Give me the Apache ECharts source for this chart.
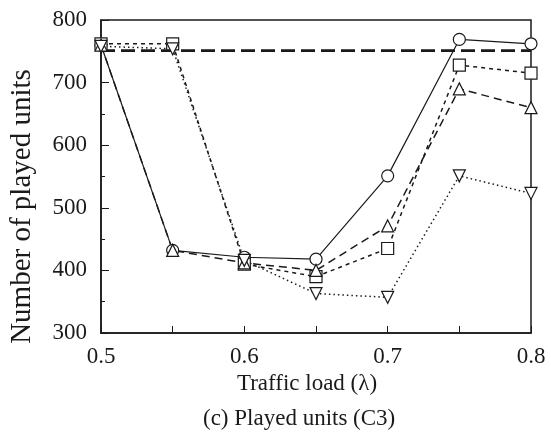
<!DOCTYPE html>
<html>
<head>
  <meta charset="UTF-8">
  <title>Played units (C3)</title>
  <script src="https://cdn.jsdelivr.net/npm/echarts@6/dist/echarts.min.js"></script>
  <style>
    body { margin: 0; padding: 0; background: #fff; }
    #chart { width: 551px; height: 432px; }
  </style>
</head>
<body>
  <div id="chart"></div>
  <script>
    // traffic load values on the x axis
    var loads = [0.5, 0.55, 0.6, 0.65, 0.7, 0.75, 0.8];

    // played units per scheme
    var circleUnits = [760, 432, 421, 418, 551, 769, 762];
    var squareUnits = [762, 762, 410, 390, 435, 728, 715];
    var triUpUnits = [760, 432, 412, 400, 471, 690, 660];
    var triDownUnits = [758, 754, 416, 363, 357, 551, 523];
    var flatUnits = [751, 751, 751, 751, 751, 751, 751];

    var yTicks = [300, 400, 500, 600, 700, 800];
    var xTicks = [0.5, 0.6, 0.7, 0.8];

    function pairs(vals) {
      var out = [];
      for (var i = 0; i < loads.length; i++) out.push([loads[i], vals[i]]);
      return out;
    }

    var font = '"Liberation Serif", "DejaVu Serif", serif';
    var ink = '#1a1a1a';

    var chart = echarts.init(document.getElementById('chart'), null, { renderer: 'canvas' });

    chart.setOption({
      animation: false,
      backgroundColor: '#fff',
      title: {
        text: '(c) Played units (C3)',
        left: 198,
        top: 402,
        textStyle: { fontFamily: font, fontSize: 23, fontWeight: 'normal', color: ink }
      },
      grid: {
        left: 97, right: 20, top: 20, bottom: 99,
        show: true, borderColor: ink, borderWidth: 1.5, backgroundColor: 'transparent'
      },
      xAxis: {
        type: 'value',
        min: xTicks[0], max: xTicks[xTicks.length - 1], interval: 0.1,
        name: 'Traffic load (λ)',
        nameLocation: 'middle',
        nameGap: 38,
        nameTextStyle: { fontFamily: font, fontSize: 23, color: ink, padding: [0, 18, 0, 0] },
        axisLine: { show: true, lineStyle: { color: ink, width: 1.5 } },
        axisTick: { show: true, inside: true, length: 7, lineStyle: { color: ink } },
        minorTick: { show: true, splitNumber: 2, length: 7, lineStyle: { color: ink } },
        splitLine: { show: false },
        axisLabel: {
          margin: 12, fontFamily: font, fontSize: 23, color: ink,
          formatter: function (v) { return v.toFixed(1); }
        }
      },
      yAxis: {
        type: 'value',
        min: yTicks[0], max: yTicks[yTicks.length - 1], interval: 100,
        name: 'Number of played units',
        nameLocation: 'middle',
        nameGap: 64,
        nameRotate: 90,
        nameTextStyle: { fontFamily: font, fontSize: 29, color: ink, padding: [0, 60, 0, 0] },
        axisLine: { show: true, lineStyle: { color: ink, width: 1.5 } },
        axisTick: { show: true, inside: true, length: 8, lineStyle: { color: ink } },
        minorTick: { show: true, splitNumber: 2, length: 4, lineStyle: { color: ink } },
        splitLine: { show: false },
        axisLabel: { margin: 14, fontFamily: font, fontSize: 23, color: ink }
      },
      series: [
        {
          name: 'flat', type: 'line', data: pairs(flatUnits),
          symbol: 'none', z: 1,
          lineStyle: { color: ink, width: 2.6, type: [14, 6] }
        },
        {
          name: 'circle', type: 'line', data: pairs(circleUnits),
          symbol: 'circle', symbolSize: 12,
          itemStyle: { color: '#fff', borderColor: ink, borderWidth: 1.2 },
          lineStyle: { color: ink, width: 1.2, type: 'solid' }
        },
        {
          name: 'square', type: 'line', data: pairs(squareUnits),
          symbol: 'rect', symbolSize: 12,
          itemStyle: { color: '#fff', borderColor: ink, borderWidth: 1.2 },
          lineStyle: { color: ink, width: 1.5, type: [4, 4] }
        },
        {
          name: 'triangle', type: 'line', data: pairs(triUpUnits),
          symbol: 'triangle', symbolSize: 12,
          itemStyle: { color: '#fff', borderColor: ink, borderWidth: 1.2 },
          lineStyle: { color: ink, width: 1.5, type: [8, 5] }
        },
        {
          name: 'triangleDown', type: 'line', data: pairs(triDownUnits),
          symbol: 'triangle', symbolRotate: 180, symbolSize: 12,
          itemStyle: { color: '#fff', borderColor: ink, borderWidth: 1.2 },
          lineStyle: { color: ink, width: 1.5, type: [1.5, 3] }
        }
      ]
    });
  </script>
</body>
</html>
